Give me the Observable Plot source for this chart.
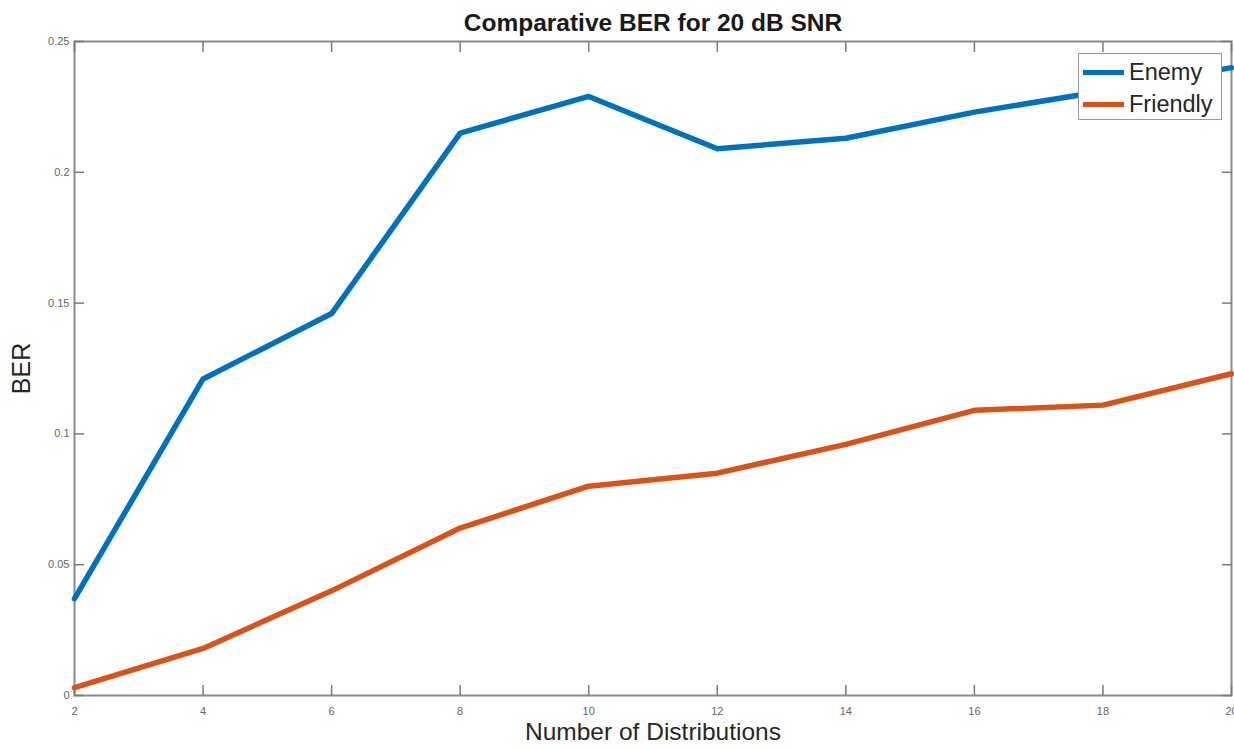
<!DOCTYPE html>
<html>
<head>
<meta charset="utf-8">
<script src="https://cdn.jsdelivr.net/npm/d3@7"></script>
<script src="https://cdn.jsdelivr.net/npm/@observablehq/plot@0.6"></script>
<style>
  html, body { margin: 0; padding: 0; background: #fff; }
  #wrap { position: relative; width: 1234px; height: 749px; font-family: "Liberation Sans", Arial, sans-serif; }
  #legend { position: absolute; left: 1078px; top: 53px; width: 144px; height: 67px; box-sizing: border-box;
            border: 1.5px solid #999; background: #fff; font-size: 23.5px; color: #262626; padding-top: 2px; }
  .li { display: flex; align-items: center; height: 32px; }
  .sw { width: 41px; height: 5px; margin-left: 4px; margin-right: 5px; }
</style>
</head>
<body>
<div id="wrap"></div>
<script>
const title = "Comparative BER for 20 dB SNR";
const xLabel = "Number of Distributions";
const yLabel = "BER";
const seriesNames = ["Enemy", "Friendly"];
const seriesColors = ["#0072BD", "#D95319"];
const distributions = [2, 4, 6, 8, 10, 12, 14, 16, 18, 20];
const enemy =    [0.037, 0.121, 0.146, 0.215, 0.229, 0.209, 0.213, 0.223, 0.231, 0.240];
const friendly = [0.003, 0.018, 0.040, 0.064, 0.080, 0.085, 0.096, 0.109, 0.111, 0.123];
const xTicks = [2, 4, 6, 8, 10, 12, 14, 16, 18, 20];
const yTicks = [0, 0.05, 0.1, 0.15, 0.2, 0.25];
const yTickLabels = ["0", "0.05", "0.1", "0.15", "0.2", "0.25"];

const rows = [];
distributions.forEach((d, i) => {
  rows.push({x: d, y: enemy[i], s: seriesNames[0]});
  rows.push({x: d, y: friendly[i], s: seriesNames[1]});
});

const tickStyle = {stroke: "#7a7a7a", strokeWidth: 1.5};
const plot = Plot.plot({
  width: 1234,
  height: 749,
  marginLeft: 74,
  marginRight: 3,
  marginTop: 41,
  marginBottom: 54,
  style: {fontFamily: "'Liberation Sans', Arial, sans-serif", background: "#fff"},
  x: {domain: [2, 20]},
  y: {domain: [0, 0.25]},
  color: {domain: seriesNames, range: seriesColors},
  marks: [
    Plot.frame({stroke: "#8a8a8a", strokeWidth: 2}),
    Plot.axisX({ticks: xTicks, tickSize: -10, tickPadding: 22, fontSize: 11, fill: "#666", ...tickStyle, label: null}),
    Plot.axisX({anchor: "top", ticks: xTicks, tickSize: -10, text: null, label: null, ...tickStyle}),
    Plot.axisY({ticks: yTicks, tickFormat: (d, i) => yTickLabels[i], tickSize: -10, tickPadding: 15, fontSize: 11, fill: "#666", ...tickStyle, label: null}),
    Plot.axisY({anchor: "right", ticks: yTicks, tickSize: -10, text: null, label: null, ...tickStyle}),
    Plot.line(rows, {x: "x", y: "y", stroke: "s", z: "s", strokeWidth: 5.5, curve: "linear"}),
    Plot.text([title], {frameAnchor: "top", dy: -18, lineAnchor: "middle", text: d => d, fontSize: 24.5, fontWeight: "bold", fill: "#1a1a1a"}),
    Plot.text([yLabel], {frameAnchor: "left", dx: -53, rotate: -90, lineAnchor: "middle", textAnchor: "middle", text: d => d, fontSize: 25, fill: "#262626"}),
    Plot.text([xLabel], {frameAnchor: "bottom", dy: 37, lineAnchor: "middle", text: d => d, fontSize: 24.5, fill: "#262626"})
  ]
});
document.getElementById("wrap").appendChild(plot);

const legend = document.createElement("div");
legend.id = "legend";
seriesNames.forEach((n, i) => {
  const li = document.createElement("div");
  li.className = "li";
  const sw = document.createElement("div");
  sw.className = "sw";
  sw.style.background = seriesColors[i];
  const t = document.createElement("span");
  t.textContent = n;
  li.appendChild(sw); li.appendChild(t);
  legend.appendChild(li);
});
document.getElementById("wrap").appendChild(legend);
</script>
</body>
</html>
